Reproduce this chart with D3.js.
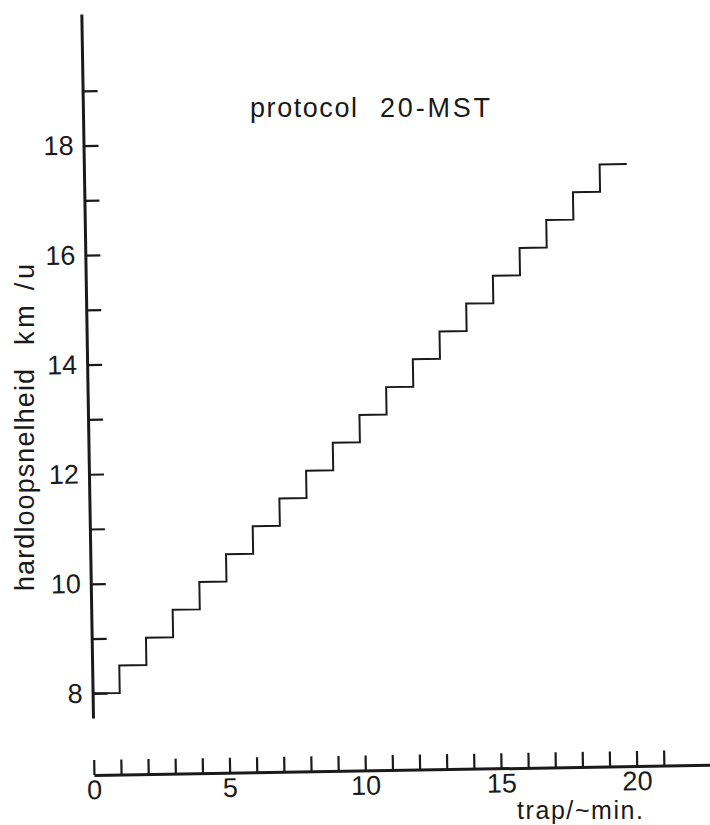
<!DOCTYPE html>
<html>
<head>
<meta charset="utf-8">
<script src="https://cdn.jsdelivr.net/npm/d3@7"></script>
<style>
  body { margin: 0; background: #fff; }
  svg text { font-family: "Liberation Sans", Arial, Helvetica, sans-serif; fill: #1a1a1a; }
</style>
</head>
<body>
<svg width="710" height="825"></svg>
<script>
// 20-MST protocol: one stage per minute, +0.5 km/u per stage
const stageMinutes = [0, 1, 2, 3, 4, 5, 6, 7, 8, 9, 10, 11, 12, 13, 14, 15, 16, 17, 18, 19];
const stageSpeeds = [8, 8.5, 9, 9.5, 10, 10.5, 11, 11.5, 12, 12.5, 13, 13.5, 14, 14.5, 15, 15.5, 16, 16.5, 17, 17.5];
const endMinute = 20;

const yTickValues = [8, 9, 10, 11, 12, 13, 14, 15, 16, 17, 18, 19];
const yTickLabels = [8, 10, 12, 14, 16, 18];
const xTickValues = [0, 1, 2, 3, 4, 5, 6, 7, 8, 9, 10, 11, 12, 13, 14, 15, 16, 17, 18, 19, 20, 21];
const xTickLabels = [0, 5, 10, 15, 20];

const svg = d3.select("svg");
const ink = "#1a1a1a";

// the scanned page is turned a little, so the axes and the line are tilted
const g = svg.append("g")
    .attr("transform", "rotate(-0.95, 93, 718)");

const x = d3.scaleLinear().domain([0, 23.1]).range([93, 720]);
const y = d3.scaleLinear().domain([7.55, 20.4]).range([718, 14]);

// y axis: ticks to the right, labels on the left
const yAxis = g.append("g")
    .attr("transform", "translate(93,0)")
    .call(d3.axisRight(y)
        .tickValues(yTickValues)
        .tickSize(15)
        .tickSizeOuter(0)
        .tickFormat(d => yTickLabels.includes(d) ? d : ""));
yAxis.select(".domain").attr("stroke", ink).attr("stroke-width", 3);
yAxis.selectAll(".tick line").attr("stroke", ink).attr("stroke-width", 2.2);
yAxis.selectAll(".tick text")
    .attr("x", -10)
    .attr("text-anchor", "end")
    .style("font-size", "27px");

// x axis sits apart, below the plot, ticks pointing up
const xAxis = g.append("g")
    .attr("transform", "translate(0,775)")
    .call(d3.axisTop(x)
        .tickValues(xTickValues)
        .tickSize(15)
        .tickSizeOuter(0)
        .tickFormat(d => xTickLabels.includes(d) ? d : ""));
xAxis.select(".domain").attr("stroke", ink).attr("stroke-width", 3);
xAxis.selectAll(".tick line").attr("stroke", ink).attr("stroke-width", 2.2);
xAxis.selectAll(".tick text")
    .attr("y", 5)
    .attr("dy", "0.71em")
    .style("font-size", "27px");

// step line
const points = stageMinutes.map((m, i) => [m, stageSpeeds[i]]);
points.push([endMinute, stageSpeeds[stageSpeeds.length - 1]]);

const line = d3.line()
    .x(d => x(d[0]))
    .y(d => y(d[1]))
    .curve(d3.curveStepAfter);

g.append("path")
    .datum(points)
    .attr("fill", "none")
    .attr("stroke", ink)
    .attr("stroke-width", 2)
    .attr("d", line);

// lettering (kept level, the transfer letters are wider spaced)
const labels = svg.append("g");

labels.append("text")
    .attr("x", 250).attr("y", 117)
    .attr("textLength", 107).attr("lengthAdjust", "spacing")
    .style("font-size", "27px")
    .text("protocol");
labels.append("text")
    .attr("x", 380).attr("y", 117)
    .attr("textLength", 110).attr("lengthAdjust", "spacing")
    .style("font-size", "27px")
    .text("20-MST");

labels.append("text")
    .attr("transform", "translate(34,591) rotate(-90)")
    .attr("textLength", 222).attr("lengthAdjust", "spacing")
    .style("font-size", "27px")
    .text("hardloopsnelheid");
labels.append("text")
    .attr("transform", "translate(34,345) rotate(-90)")
    .attr("textLength", 81).attr("lengthAdjust", "spacing")
    .style("font-size", "27px")
    .text("km /u");

labels.append("text")
    .attr("x", 517).attr("y", 819)
    .attr("textLength", 126).attr("lengthAdjust", "spacing")
    .style("font-size", "25px")
    .text("trap/~min.");
</script>
</body>
</html>
